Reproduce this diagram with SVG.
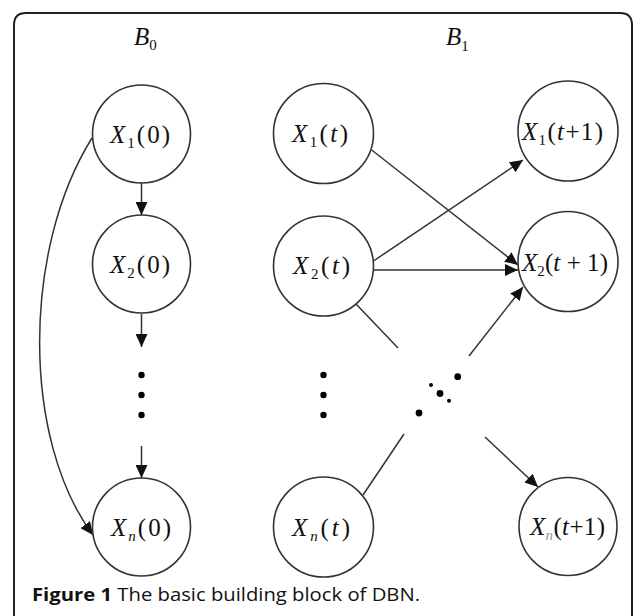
<svg xmlns="http://www.w3.org/2000/svg" width="633" height="616" viewBox="0 0 633 616">
<defs>
<style>
.bg{fill:#fff}
.frame{fill:none;stroke:#222;stroke-width:2}
.node circle{fill:#fff;stroke:#333;stroke-width:1.6}
.edge{fill:none;stroke:#333;stroke-width:1.5}
.arr{marker-end:url(#ah)}
.lbl{font-family:"Liberation Serif",serif;font-size:25px;fill:#111}
.i{font-style:italic}
.sub{font-size:15px}
.dot{fill:#000}
.cap{font-family:"Open Sans","Noto Sans",sans-serif;font-size:18px;fill:#111}
</style>
<marker id="ah" markerUnits="userSpaceOnUse" markerWidth="13" markerHeight="12" refX="13" refY="6" orient="auto">
<path d="M0,0 L13,6 L0,12 z" fill="#111"/>
</marker>
</defs>
<rect class="bg" x="0" y="0" width="633" height="616"/>
<path class="frame" d="M14,616 V25 Q14,13 26,13 H620 Q632,13 632,25 V616"/>

<text class="lbl" x="134" y="45"><tspan class="i">B</tspan><tspan class="sub" dy="5">0</tspan></text>
<text class="lbl" x="446" y="45"><tspan class="i">B</tspan><tspan class="sub" dy="6">1</tspan></text>

<g id="connectors">
<path class="edge arr" d="M141.5,183 V215"/>
<path class="edge arr" d="M141.5,314 V347"/>
<path class="edge arr" d="M141.5,446 V478"/>
<path class="edge arr" d="M92,138 C22,250 22,440 93,535"/>
<path class="edge arr" d="M371.7,150 L518,265"/>
<path class="edge arr" d="M372,262 L523,160"/>
<path class="edge arr" d="M373,270 L518,270"/>
<path class="edge" d="M356,304 L398,348"/>
<path class="edge arr" d="M485,437 L538,487"/>
<path class="edge" d="M363,495 L404,434"/>
<path class="edge arr" d="M469,356 L523,287"/>
</g>

<g id="dots">
<circle class="dot" cx="141.5" cy="375" r="3.2"/>
<circle class="dot" cx="141.5" cy="395" r="3.2"/>
<circle class="dot" cx="141.5" cy="415" r="3.2"/>
<circle class="dot" cx="323.5" cy="375" r="3.2"/>
<circle class="dot" cx="323.5" cy="395" r="3.2"/>
<circle class="dot" cx="323.5" cy="415" r="3.2"/>
<circle class="dot" cx="457.7" cy="376.7" r="3.4"/>
<circle class="dot" cx="431" cy="385" r="2"/>
<circle class="dot" cx="440" cy="393.5" r="3.4"/>
<circle class="dot" cx="449" cy="400.7" r="2"/>
<circle class="dot" cx="419" cy="413" r="3.4"/>
</g>

<g id="X1_0" class="node"><circle cx="141.5" cy="134" r="49"/>
<text class="lbl" x="110" y="143" textLength="60" lengthAdjust="spacing"><tspan class="i">X</tspan><tspan class="sub" dy="5">1</tspan><tspan dy="-5">(0)</tspan></text></g>
<g id="X2_0" class="node"><circle cx="141.5" cy="264" r="49"/>
<text class="lbl" x="110" y="273" textLength="60" lengthAdjust="spacing"><tspan class="i">X</tspan><tspan class="sub" dy="5">2</tspan><tspan dy="-5">(0)</tspan></text></g>
<g id="Xn_0" class="node"><circle cx="141.5" cy="527" r="49"/>
<text class="lbl" x="111" y="536" textLength="60" lengthAdjust="spacing"><tspan class="i">X</tspan><tspan class="sub i" dy="5">n</tspan><tspan dy="-5">(0)</tspan></text></g>

<g id="X1_t" class="node"><circle cx="323.5" cy="133.5" r="50"/>
<text class="lbl" x="292" y="142" textLength="56" lengthAdjust="spacing"><tspan class="i">X</tspan><tspan class="sub" dy="5">1</tspan><tspan dy="-5">(</tspan><tspan class="i">t</tspan><tspan>)</tspan></text></g>
<g id="X2_t" class="node"><circle cx="323.5" cy="266" r="50"/>
<text class="lbl" x="293" y="274" textLength="57" lengthAdjust="spacing"><tspan class="i">X</tspan><tspan class="sub" dy="5">2</tspan><tspan dy="-5">(</tspan><tspan class="i">t</tspan><tspan>)</tspan></text></g>
<g id="Xn_t" class="node"><circle cx="323.5" cy="527" r="50"/>
<text class="lbl" x="292" y="536" textLength="58" lengthAdjust="spacing"><tspan class="i">X</tspan><tspan class="sub i" dy="5">n</tspan><tspan dy="-5">(</tspan><tspan class="i">t</tspan><tspan>)</tspan></text></g>

<g id="X1_t1" class="node"><circle cx="568" cy="131" r="50"/>
<text class="lbl" x="522" y="140" textLength="81" lengthAdjust="spacing"><tspan class="i">X</tspan><tspan class="sub" dy="5">1</tspan><tspan dy="-5">(</tspan><tspan class="i">t</tspan><tspan>+1)</tspan></text></g>
<g id="X2_t1" class="node"><circle cx="568" cy="261.5" r="50"/>
<text class="lbl" x="522" y="271" textLength="86" lengthAdjust="spacing"><tspan class="i">X</tspan><tspan class="sub" dy="5">2</tspan><tspan dy="-5">(</tspan><tspan class="i">t</tspan><tspan> + 1)</tspan></text></g>
<g id="Xn_t1" class="node"><circle cx="568" cy="526.5" r="49"/>
<text class="lbl" x="530" y="535" textLength="75" lengthAdjust="spacing"><tspan class="i">X</tspan><tspan class="sub i" dy="5" font-size="9" fill="#999">n</tspan><tspan dy="-5">(</tspan><tspan class="i">t</tspan><tspan>+1)</tspan></text></g>

<text class="cap" x="32" y="601" textLength="388" lengthAdjust="spacingAndGlyphs"><tspan font-weight="bold">Figure 1</tspan> The basic building block of DBN.</text>
</svg>
